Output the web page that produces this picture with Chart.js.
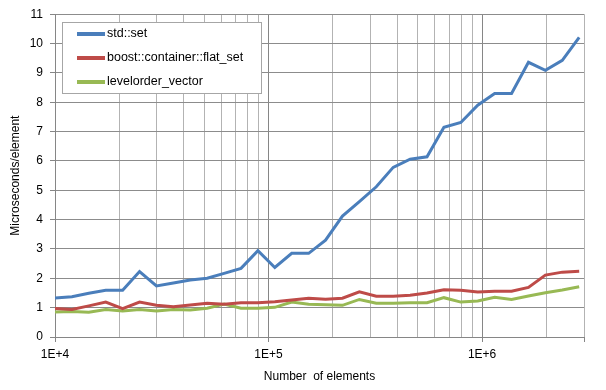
<!DOCTYPE html>
<html>
<head>
<meta charset="utf-8">
<script src="https://cdn.jsdelivr.net/npm/chart.js@4.4.1/dist/chart.umd.min.js"></script>
<style>
  html, body { margin: 0; padding: 0; background: #fff; }
  #wrap { width: 606px; height: 390px; position: relative; }
</style>
</head>
<body>
<div id="wrap"><canvas id="lineChart"></canvas></div>
<script>
// number of elements (x)
const elements = [10000, 12000, 14400, 17280, 20736, 24883, 29860, 35832, 42998, 51598,
  61917, 74301, 89161, 106993, 128392, 154070, 184884, 221861, 266233, 319480,
  383376, 460051, 552061, 662474, 794968, 953962, 1144755, 1373706, 1648447, 1978136,
  2373764, 2848516];

// microseconds per element
const stdSet = [1.33, 1.37, 1.49, 1.59, 1.59, 2.23, 1.74, 1.84, 1.94, 2.0,
  2.17, 2.34, 2.94, 2.37, 2.85, 2.85, 3.3, 4.12, 4.61, 5.12,
  5.78, 6.06, 6.14, 7.15, 7.31, 7.9, 8.3, 8.3, 9.36, 9.09,
  9.43, 10.21];
const flatSet = [0.97, 0.94, 1.06, 1.19, 0.97, 1.19, 1.08, 1.03, 1.09, 1.15,
  1.12, 1.17, 1.17, 1.2, 1.26, 1.32, 1.29, 1.32, 1.54, 1.39,
  1.39, 1.42, 1.5, 1.61, 1.59, 1.53, 1.56, 1.56, 1.69, 2.11,
  2.21, 2.24];
const levelorder = [0.85, 0.87, 0.84, 0.94, 0.89, 0.94, 0.89, 0.94, 0.92, 0.98,
  1.12, 0.98, 0.98, 1.01, 1.19, 1.12, 1.1, 1.08, 1.28, 1.15,
  1.15, 1.17, 1.17, 1.34, 1.19, 1.23, 1.35, 1.28, 1.4, 1.51,
  1.6, 1.71];

const seriesNames = ['std::set', 'boost::container::flat_set', 'levelorder_vector'];
const seriesColors = ['#4a7ebb', '#be4b48', '#98b954'];
const decades = [1e4, 1e5, 1e6];
const decadeLabels = ['1E+4', '1E+5', '1E+6'];

const FONT = 'Liberation Sans, Arial, sans-serif';
Chart.defaults.font.family = FONT;
Chart.defaults.font.size = 12;
Chart.defaults.color = '#000';

function pairs(ys) {
  return ys.map((y, i) => ({ x: elements[i], y: y }));
}

function isDecade(v) {
  return decades.indexOf(v) >= 0;
}

// legend box drawn inside the plot area
const innerLegend = {
  id: 'innerLegend',
  afterDraw(chart) {
    const c = chart.ctx;
    const x0 = 62, y0 = 22, w = 199, h = 71;
    c.save();
    c.fillStyle = '#fff';
    c.fillRect(x0, y0, w, h);
    c.strokeStyle = '#a6a6a6';
    c.lineWidth = 1;
    c.strokeRect(x0 + 0.5, y0 + 0.5, w, h);
    c.font = '12.5px ' + FONT;
    c.textBaseline = 'middle';
    chart.data.datasets.forEach((ds, i) => {
      const y = 34 + i * 24;
      c.strokeStyle = ds.borderColor;
      c.lineWidth = 4;
      c.beginPath();
      c.moveTo(77, y);
      c.lineTo(105, y);
      c.stroke();
      c.fillStyle = '#000';
      c.fillText(ds.label, 107, y);
    });
    c.restore();
  }
};

const ctx = document.getElementById('lineChart').getContext('2d');

const config = {
  type: 'line',
  data: {
    datasets: [stdSet, flatSet, levelorder].map((ys, i) => ({
      label: seriesNames[i],
      data: pairs(ys),
      borderColor: seriesColors[i],
      backgroundColor: seriesColors[i],
      borderWidth: 3,
      pointRadius: 0,
      tension: 0,
      fill: false
    }))
  },
  options: {
    responsive: true,
    maintainAspectRatio: false,
    animation: false,
    layout: { padding: { top: 14, right: 22, left: 0, bottom: 0 } },
    scales: {
      x: {
        type: 'logarithmic',
        min: 10000,
        max: 3000000,
        afterFit(scale) { scale.height = 53; },
        afterBuildTicks(scale) {
          const t = [];
          decades.forEach(d => {
            for (let m = 1; m <= 9; m++) {
              const v = d * m;
              if (v <= 3000000) t.push({ value: v });
            }
          });
          scale.ticks = t;
        },
        grid: {
          color: c => isDecade(c.tick && c.tick.value) ? '#868686' : '#b3b3b3',
          tickColor: c => (isDecade(c.tick && c.tick.value) || (c.tick && c.tick.value === 3000000)) ? '#868686' : 'rgba(0,0,0,0)',
          tickLength: 5,
          lineWidth: 1
        },
        border: { color: '#868686' },
        ticks: {
          autoSkip: false,
          maxRotation: 0,
          padding: 5,
          callback: v => {
            const k = decades.indexOf(v);
            return k >= 0 ? decadeLabels[k] : '';
          }
        },
        title: {
          display: true,
          text: 'Number  of elements',
          padding: { top: 2, bottom: 6 },
          font: { size: 12 }
        }
      },
      y: {
        min: 0,
        max: 11,
        afterFit(scale) { scale.width = 55; },
        ticks: { stepSize: 1, padding: 7 },
        grid: {
          color: '#8c8c8c',
          tickColor: '#868686',
          tickLength: 5,
          lineWidth: 1
        },
        border: { color: '#868686' },
        title: {
          display: true,
          text: 'Microseconds/element',
          padding: { top: 8, bottom: 0 },
          font: { size: 12 }
        }
      }
    },
    plugins: {
      legend: { display: false },
      tooltip: { enabled: false }
    }
  },
  plugins: [innerLegend]
};

const lineChart = new Chart(ctx, config);
</script>
</body>
</html>
